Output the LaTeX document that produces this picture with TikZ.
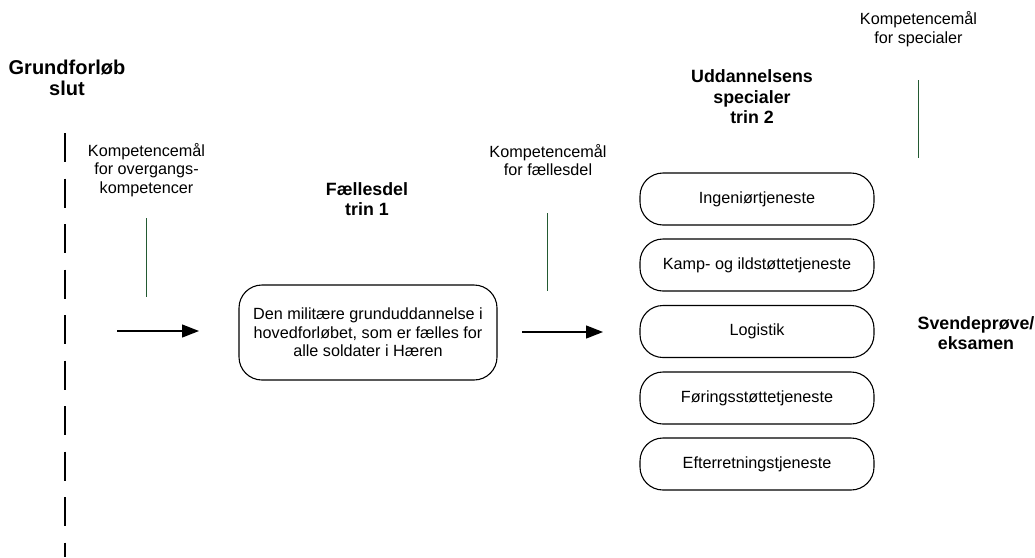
\documentclass[tikz,border=0pt]{standalone}
\usepackage{fontspec}
\setmainfont{Liberation Sans}
\usetikzlibrary{arrows.meta}
\definecolor{kgreen}{RGB}{35,90,50}
\begin{document}
\begin{tikzpicture}[x=1pt,y=-1pt,
  reg/.style={font=\fontsize{16.2}{18.5}\selectfont, align=center, inner sep=0pt},
  hdr/.style={font=\fontsize{17.8}{20.5}\selectfont\bfseries, align=center, inner sep=0pt},
  goal/.style={draw=kgreen, line width=1pt},
  flow/.style={line width=1.3pt, -{Triangle[length=17pt,width=13pt]}},
  rbox/.style={draw, line width=1.1pt, rounded corners=23pt, align=center, font=\fontsize{16.2}{18.5}\selectfont, inner sep=0pt},
  border/.style={line width=1.1pt, dash pattern=on 29pt off 16.5pt}]
\useasboundingbox (0,0) rectangle (1035,557);
% left border
\coordinate (bt) at (65,133);
\coordinate (bb) at (65,557);
\draw[border] (bt) -- (bb);
\node[inner sep=0pt, align=center, font=\fontsize{20}{21}\selectfont\bfseries] (grund) at (67,78) {Grundforløb\\slut};
% stage 0
\node[reg] (k1) at (146.5,170) {Kompetencemål\\for overgangs-\\kompetencer};
\coordinate (g1t) at (146,218);
\coordinate (g1b) at (146,297);
\draw[goal] (g1t) -- (g1b);
\coordinate (a1s) at (117,331);
\coordinate (a1e) at (199,331);
\draw[flow] (a1s) -- (a1e);
% stage 1
\node[hdr] (faelles) at (367,199) {Fællesdel\\trin 1};
\node[rbox, minimum width=258pt, minimum height=95pt] (main) at (368,332.5) {Den militære grunduddannelse i\\hovedforløbet, som er fælles for\\alle soldater i Hæren};
\node[reg] (k2) at (548,160) {Kompetencemål\\for fællesdel};
\coordinate (g2t) at (547,213);
\coordinate (g2b) at (547,291);
\draw[goal] (g2t) -- (g2b);
\coordinate (a2s) at (522,332);
\coordinate (a2e) at (603,332);
\draw[flow] (a2s) -- (a2e);
% stage 2
\node[hdr] (udd) at (752,97) {Uddannelsens\\specialer\\trin 2};
\node[reg] (k3) at (918.5,29) {Kompetencemål\\for specialer};
\coordinate (g3t) at (918,80);
\coordinate (g3b) at (918,158);
\draw[goal] (g3t) -- (g3b);
\node[rbox, minimum width=234pt, minimum height=52pt] (s1) at (757,199) {Ingeniørtjeneste};
\node[rbox, minimum width=234pt, minimum height=52pt] (s2) at (757,265) {Kamp- og ildstøttetjeneste};
\node[rbox, minimum width=234pt, minimum height=52pt] (s3) at (757,331.5) {Logistik};
\node[rbox, minimum width=234pt, minimum height=52pt] (s4) at (757,398) {Føringsstøttetjeneste};
\node[rbox, minimum width=234pt, minimum height=52pt] (s5) at (757,464) {Efterretningstjeneste};
% final
\node[hdr] (svend) at (976,333) {Svendeprøve/\\eksamen};
\end{tikzpicture}
\end{document}
